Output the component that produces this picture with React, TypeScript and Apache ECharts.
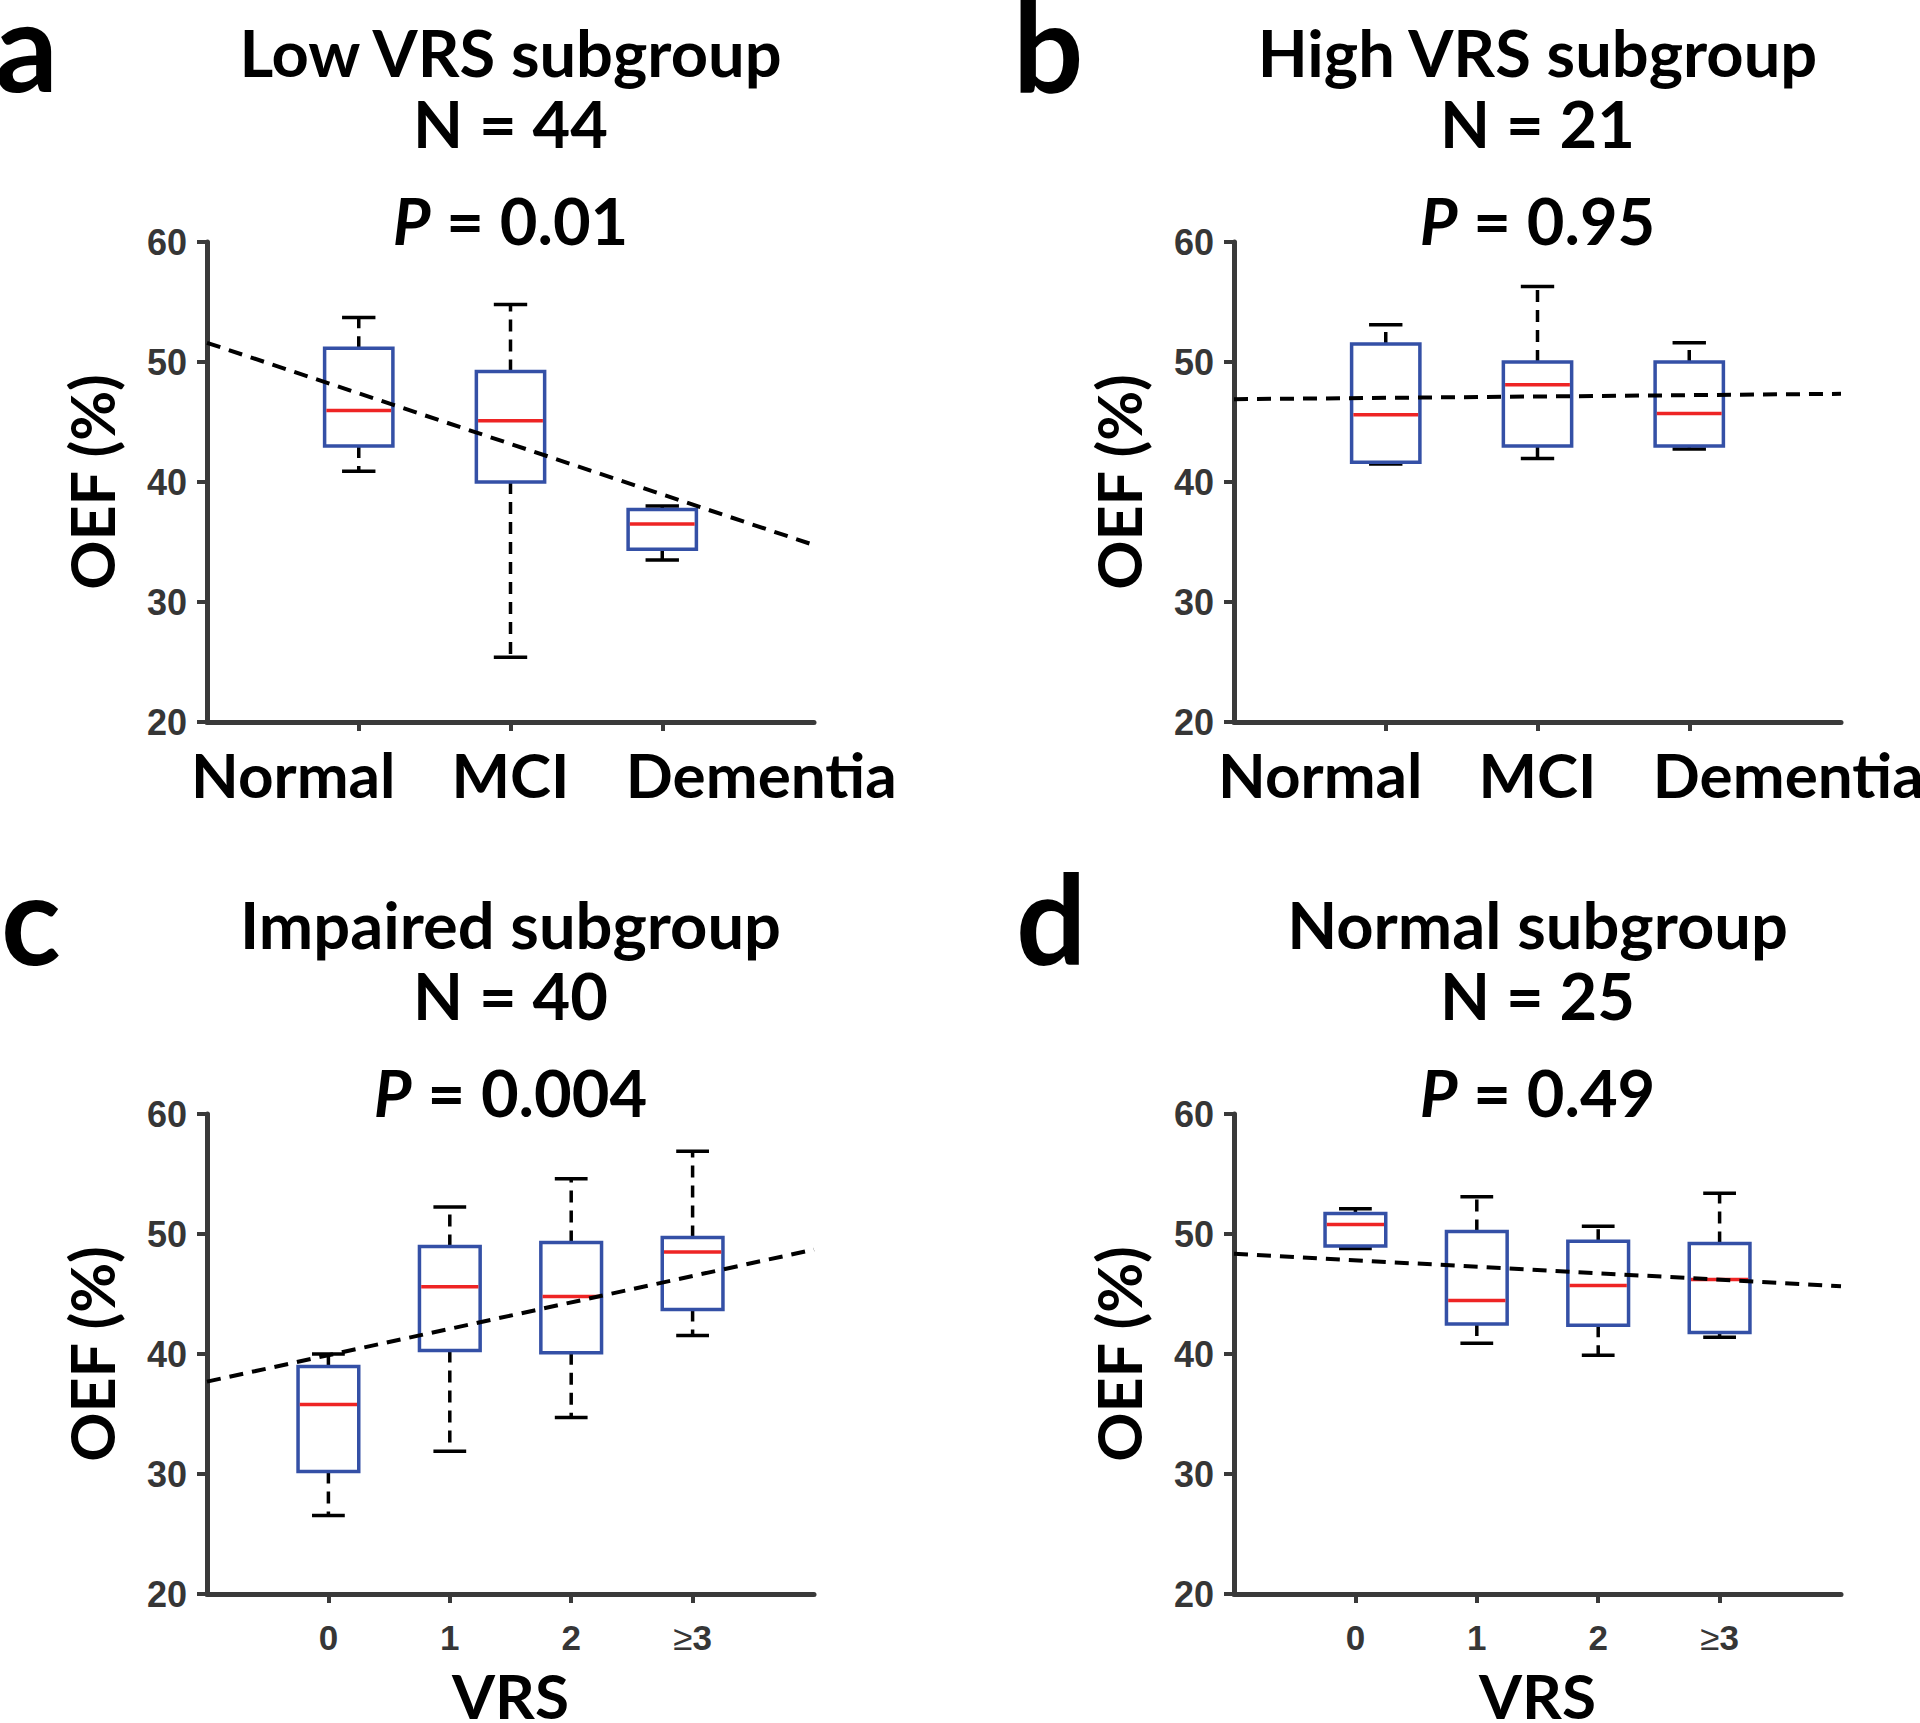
import React, { useEffect, useRef } from 'react';
import * as echarts from 'echarts';

// ---------- data ----------
const groupCats = ['Normal', 'MCI', 'Dementia'];
const vrsCats = ['0', '1', '2', '≥3'];
const yTicks = [20, 30, 40, 50, 60];

// Panel a: Low VRS subgroup (whisker low, Q1, median, Q3, whisker high)
const aLow = [40.9, 25.4, 33.5];
const aQ1 = [43.0, 40.0, 34.4];
const aMed = [45.95, 45.1, 36.5];
const aQ3 = [51.15, 49.2, 37.7];
const aHigh = [53.7, 54.8, 38.0];
const aTrend = [51.6, 34.75]; // fitted line at left and right axis ends

// Panel b: High VRS subgroup
const bLow = [41.5, 41.95, 42.75];
const bQ1 = [41.65, 43.0, 43.0];
const bMed = [45.6, 48.1, 45.7];
const bQ3 = [51.5, 50.0, 50.0];
const bHigh = [53.1, 56.3, 51.6];
const bTrend = [46.9, 47.35];

// Panel c: Impaired subgroup
const cLow = [26.55, 31.9, 34.7, 41.55];
const cQ1 = [30.2, 40.3, 40.1, 43.7];
const cMed = [35.8, 45.6, 44.8, 48.5];
const cQ3 = [38.95, 48.95, 49.3, 49.7];
const cHigh = [40.0, 52.25, 54.6, 56.9];
const cTrend = [37.7, 48.7];

// Panel d: Normal subgroup
const dLow = [48.8, 40.9, 39.9, 41.4];
const dQ1 = [49.0, 42.5, 42.4, 41.8];
const dMed = [50.8, 44.45, 45.7, 46.2];
const dQ3 = [51.7, 50.2, 49.4, 49.2];
const dHigh = [52.1, 53.1, 50.65, 53.4];
const dTrend = [48.35, 45.65];

const panelLetters = ['a', 'b', 'c', 'd'];
const panelTitles = ['Low VRS subgroup', 'High VRS subgroup', 'Impaired subgroup', 'Normal subgroup'];
const panelN = ['N = 44', 'N = 21', 'N = 40', 'N = 25'];
const panelP = ['0.01', '0.95', '0.004', '0.49'];

// ---------- styles ----------
const AXIS = '#3a3a3a';
const TICKTXT = '#363636';
const BLUE = '#3450A6';
const RED = '#EE2424';
const TITLE_FONT = 'Lato';
const NUM_FONT = 'Liberation Sans';
const TITLE_SIZE = 65;
const CAT_SIZE = 62;

const layouts = [
  { left: 207, top: 242, cats: groupCats, low: aLow, q1: aQ1, med: aMed, q3: aQ3, high: aHigh, trend: aTrend, boxW: 0.45, capW: 0.22, vrs: false },
  { left: 1234, top: 242, cats: groupCats, low: bLow, q1: bQ1, med: bMed, q3: bQ3, high: bHigh, trend: bTrend, boxW: 0.45, capW: 0.22, vrs: false },
  { left: 207, top: 1114, cats: vrsCats, low: cLow, q1: cQ1, med: cMed, q3: cQ3, high: cHigh, trend: cTrend, boxW: 0.5, capW: 0.27, vrs: true },
  { left: 1234, top: 1114, cats: vrsCats, low: dLow, q1: dQ1, med: dMed, q3: dQ3, high: dHigh, trend: dTrend, boxW: 0.5, capW: 0.27, vrs: true },
];
const GW = 607;
const GH = 480;

const makeRender = (boxW: number, capW: number) => (params: any, api: any) => {
  const x = api.value(0);
  const pLo = api.coord([x, api.value(1)]);
  const cx = pLo[0];
  const yLo = pLo[1];
  const yQ1 = api.coord([x, api.value(2)])[1];
  const yMed = api.coord([x, api.value(3)])[1];
  const yQ3 = api.coord([x, api.value(4)])[1];
  const yHi = api.coord([x, api.value(5)])[1];
  const bw = api.size([boxW, 0])[0];
  const cw = api.size([capW, 0])[0];
  const dashed = { stroke: '#000', lineWidth: 3.5, lineDash: [12, 8], fill: null };
  const solid = { stroke: '#000', lineWidth: 3.5, fill: null };
  return {
    type: 'group',
    children: [
      { type: 'line', shape: { x1: cx, y1: yQ3, x2: cx, y2: yHi }, style: dashed },
      { type: 'line', shape: { x1: cx, y1: yQ1, x2: cx, y2: yLo }, style: dashed },
      { type: 'line', shape: { x1: cx - cw / 2, y1: yHi, x2: cx + cw / 2, y2: yHi }, style: solid },
      { type: 'line', shape: { x1: cx - cw / 2, y1: yLo, x2: cx + cw / 2, y2: yLo }, style: solid },
      { type: 'rect', shape: { x: cx - bw / 2, y: yQ3, width: bw, height: yQ1 - yQ3 }, style: { fill: 'none', stroke: BLUE, lineWidth: 3.5 } },
      { type: 'line', shape: { x1: cx - bw / 2 + 1.75, y1: yMed, x2: cx + bw / 2 - 1.75, y2: yMed }, style: { stroke: RED, lineWidth: 3.5 } },
    ],
  };
};

function buildOption() {
  const grid: any[] = [];
  const xAxis: any[] = [];
  const yAxis: any[] = [];
  const series: any[] = [];
  const graphic: any[] = [];

  layouts.forEach((L, i) => {
    const n = L.cats.length;
    const xMax = n + 1;
    const catVals = L.cats.map((_, k) => k + 1);
    grid.push({ left: L.left, top: L.top, width: GW, height: GH, outerBoundsMode: 'none' });

    const groupRich = {
      c0: { fontFamily: TITLE_FONT, fontWeight: 'bold', fontSize: CAT_SIZE, color: '#000', padding: [0, 131, 0, 0] },
      c1: { fontFamily: TITLE_FONT, fontWeight: 'bold', fontSize: CAT_SIZE, color: '#000' },
      c2: { fontFamily: TITLE_FONT, fontWeight: 'bold', fontSize: CAT_SIZE, color: '#000', padding: [0, 0, 0, 198] },
    };
    const vrsRich = {
      d: { fontFamily: NUM_FONT, fontWeight: 'bold', fontSize: 35, color: TICKTXT },
      g: { fontFamily: NUM_FONT, fontWeight: 'normal', fontSize: 35, color: TICKTXT },
    };

    xAxis.push({
      type: 'value',
      gridIndex: i,
      min: 0,
      max: xMax,
      interval: 1,
      splitLine: { show: false },
      axisLine: { show: true, onZero: false, lineStyle: { color: AXIS, width: 5 } },
      axisTick: { show: true, inside: false, length: 9, customValues: catVals, lineStyle: { color: AXIS, width: 4 } },
      axisLabel: L.vrs
        ? {
            show: true,
            customValues: catVals,
            margin: 26,
            fontFamily: NUM_FONT,
            fontWeight: 'bold',
            fontSize: 35,
            color: TICKTXT,
            formatter: (v: number) => {
              const t = L.cats[v - 1] || '';
              if (t.startsWith('≥')) return '{g|≥}{d|' + t.slice(1) + '}';
              return '{d|' + t + '}';
            },
            rich: vrsRich,
          }
        : {
            show: true,
            customValues: catVals,
            margin: 21,
            fontFamily: TITLE_FONT,
            fontWeight: 'bold',
            fontSize: CAT_SIZE,
            color: '#000',
            formatter: (v: number) => '{c' + (v - 1) + '|' + (L.cats[v - 1] || '') + '}',
            rich: groupRich,
          },
      name: L.vrs ? 'VRS' : '',
      nameLocation: 'middle',
      nameGap: 70,
      nameMoveOverlap: false,
      nameTextStyle: { fontFamily: TITLE_FONT, fontWeight: 'bold', fontSize: CAT_SIZE, color: '#000' },
    });

    yAxis.push({
      type: 'value',
      gridIndex: i,
      min: yTicks[0],
      max: yTicks[yTicks.length - 1],
      interval: 10,
      splitLine: { show: false },
      axisLine: { show: true, onZero: false, lineStyle: { color: AXIS, width: 5 } },
      axisTick: { show: true, inside: false, length: 10, lineStyle: { color: AXIS, width: 4 } },
      axisLabel: { margin: 20, fontFamily: NUM_FONT, fontWeight: 'bold', fontSize: 36, color: TICKTXT },
      name: 'OEF (%)',
      nameLocation: 'middle',
      nameRotate: 90,
      nameGap: 85,
      nameMoveOverlap: false,
      nameTextStyle: { fontFamily: TITLE_FONT, fontWeight: 'bold', fontSize: 61, color: '#000' },
    });

    series.push({
      type: 'custom',
      xAxisIndex: i,
      yAxisIndex: i,
      renderItem: makeRender(L.boxW, L.capW),
      encode: { x: 0, y: [1, 2, 3, 4, 5] },
      data: L.cats.map((_, k) => [k + 1, L.low[k], L.q1[k], L.med[k], L.q3[k], L.high[k]]),
      z: 2,
      silent: true,
    });

    series.push({
      type: 'line',
      xAxisIndex: i,
      yAxisIndex: i,
      data: [[0, L.trend[0]], [xMax, L.trend[1]]],
      symbol: 'none',
      showSymbol: false,
      lineStyle: { color: '#000', width: 4, type: [14, 9] },
      z: 3,
      silent: true,
    });

    const cx = L.left + GW / 2;
    const yOff = L.top - 242;
    graphic.push({
      type: 'text',
      x: cx,
      y: 52 + yOff,
      style: { text: panelTitles[i], fontFamily: TITLE_FONT, fontWeight: 'bold', fontSize: TITLE_SIZE, fill: '#000', align: 'center', verticalAlign: 'middle' },
    });
    graphic.push({
      type: 'text',
      x: cx,
      y: 123 + yOff,
      style: { text: panelN[i], fontFamily: TITLE_FONT, fontWeight: 'bold', fontSize: TITLE_SIZE, fill: '#000', align: 'center', verticalAlign: 'middle' },
    });
    graphic.push({
      type: 'text',
      x: cx,
      y: 220 + yOff,
      style: {
        text: '{i|P}{r| = ' + panelP[i] + '}',
        align: 'center',
        verticalAlign: 'middle',
        rich: {
          i: { fontFamily: TITLE_FONT, fontWeight: 'bold', fontStyle: 'italic', fontSize: TITLE_SIZE, fill: '#000' },
          r: { fontFamily: TITLE_FONT, fontWeight: 'bold', fontSize: TITLE_SIZE, fill: '#000' },
        },
      },
    });
    const letterX = [-5, 1013, 1, 1016][i];
    const letterY = [44, 45, 917, 917][i];
    graphic.push({
      type: 'text',
      x: letterX,
      y: letterY,
      style: { text: panelLetters[i], fontFamily: TITLE_FONT, fontWeight: 'bold', fontSize: 124, fill: '#000', align: 'left', verticalAlign: 'middle' },
    });
  });

  return {
    animation: false,
    backgroundColor: '#ffffff',
    grid,
    xAxis,
    yAxis,
    series,
    graphic,
  };
}

export default function App() {
  const ref = useRef<HTMLDivElement>(null);
  useEffect(() => {
    if (!ref.current) return;
    const chart = echarts.init(ref.current, null, { renderer: 'svg' });
    chart.setOption(buildOption() as any);
    return () => chart.dispose();
  }, []);
  return (
    <div
      ref={ref}
      style={{ position: 'absolute', left: 0, top: 0, width: 1920, height: 1723, background: '#fff' }}
    />
  );
}
